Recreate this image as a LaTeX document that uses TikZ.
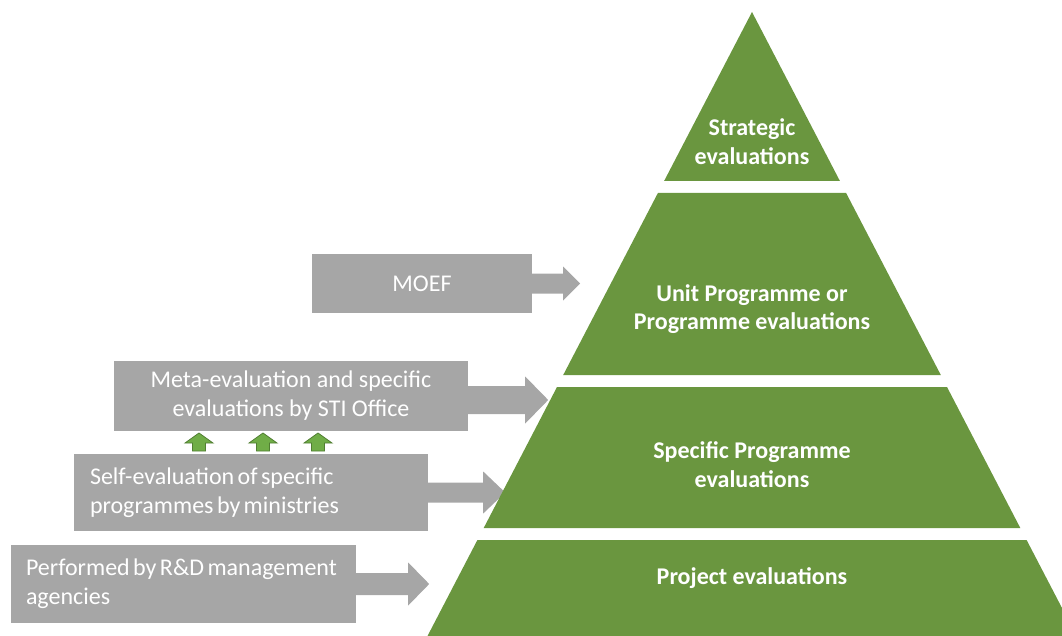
\documentclass[tikz,border=0pt]{standalone}
\usepackage{fontspec}
\setmainfont{Carlito}
\usetikzlibrary{calc}
\definecolor{pgreen}{RGB}{106,150,63}
\definecolor{bgrey}{RGB}{166,166,166}
\definecolor{agreen}{RGB}{112,173,71}
\definecolor{agreendark}{RGB}{80,126,50}
\newcommand\blockarrow[5]{%
  \fill[bgrey] ($(#1)+(0,-#2)$) -- ++(#4,0) -- ++(0,#2-#3) -- ++(#5,#3) -- ++(-#5,#3) -- ++(0,#2-#3) -- ++(-#4,0) -- cycle;}
\newcommand\uparrowsmall[1]{%
  \draw[fill=agreen, draw=agreendark, line width=0.8pt] ($(#1)+(-6.5,18)$) -- ++(0,-8) -- ++(-7.5,0) -- ++(14,-10) -- ++(14,10) -- ++(-7.5,0) -- ++(0,8) -- cycle;}
\newcommand\tightsp{\spaceskip=3.4pt plus 1pt minus 0.5pt\relax}
\begin{document}
\begin{tikzpicture}[x=1pt,y=-1pt,
  greybox/.style={fill=bgrey, text=white, inner sep=0pt, font=\fontsize{24}{29}\selectfont},
  tightbox/.style={greybox, execute at begin node=\tightsp},
  layer/.style={fill=pgreen},
  layertext/.style={text=white, font=\fontsize{24}{28.5}\selectfont\bfseries, align=center}]
\useasboundingbox (0,0) rectangle (1062,636);
% grey boxes
\node[greybox, minimum width=220, minimum height=59] (moef) at (422,283.5) {MOEF};
\node[greybox, minimum width=354, minimum height=70, align=center] (meta) at (291,396) {Meta-evaluation and specific\\evaluations by STI Office};
\node[tightbox, minimum width=354, minimum height=77, text width=322, inner xsep=16, align=left] (self) at (251,492.5) {Self-evaluation of specific\\programmes by ministries};
\node[tightbox, minimum width=345, minimum height=78, text width=315, inner xsep=15, align=left] (rd) at (183.5,584) {Performed by R\&D management\\agencies};
% block arrows
\blockarrow{moef.east}{10}{17}{31}{17}
\coordinate (metaout) at ($(meta.east)+(0,4)$);
\blockarrow{metaout}{14}{23.5}{57}{23}
\blockarrow{self.east}{10}{21}{55}{22}
\blockarrow{rd.east}{11}{21.5}{52}{21}
% small green arrows
\coordinate (u1) at (199,433);
\coordinate (u2) at (263,433);
\coordinate (u3) at (318,433);
\uparrowsmall{u1}
\uparrowsmall{u2}
\uparrowsmall{u3}
% pyramid
\fill[layer] (752,12) -- (839.9,181) -- (664.1,181) -- cycle;
\fill[layer] (657.9,193) -- (846.1,193) -- (940.8,375) -- (563.2,375) -- cycle;
\fill[layer] (557,387) -- (947,387) -- (1020.3,528) -- (483.7,528) -- cycle;
\fill[layer] (477.4,540) -- (1026.6,540) -- (1062,608) -- (1062,636) -- (427.5,636) -- cycle;
\node[layertext] (l1) at (752,141.5) {Strategic\\evaluations};
\node[layertext] (l2) at (752,309) {Unit Programme or\\Programme evaluations};
\node[layertext] (l3) at (752,464.5) {Specific Programme\\evaluations};
\node[layertext] (l4) at (752,578) {Project evaluations};
\end{tikzpicture}
\end{document}
